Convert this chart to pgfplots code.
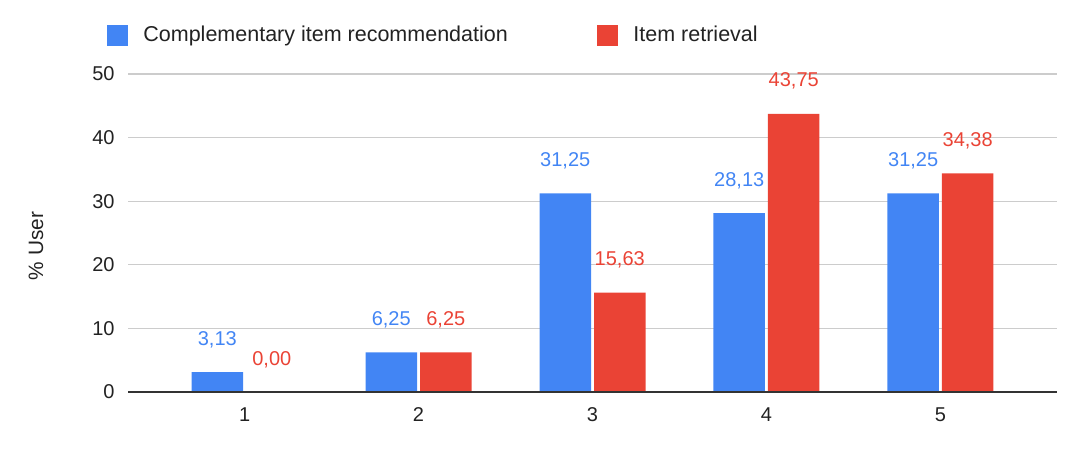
\documentclass[border=0pt]{standalone}
\usepackage{pgfplots}
\pgfplotsset{compat=1.18}
\usepackage{fontspec}
\setmainfont{Liberation Sans}
\definecolor{SheetBlue}{HTML}{4285F4}
\definecolor{SheetRed}{HTML}{EA4335}
\definecolor{GridGray}{HTML}{CCCCCC}
\definecolor{AxisDark}{HTML}{333333}
\definecolor{TextGray}{HTML}{222222}

\begin{document}
\begin{tikzpicture}
\useasboundingbox (0,0) rectangle (540pt,225pt);
\begin{axis}[
    at={(64pt,29pt)}, anchor=south west,
    scale only axis, width=464.5pt, height=159pt,
    ybar=1.5pt, bar width=25.75pt,
    xmin=0.33, xmax=5.67, ymin=0, ymax=50,
    xtick={1,2,3,4,5}, ytick={0,10,20,30,40,50},
    axis line style={draw=none},
    major tick length=0pt,
    ymajorgrids=true,
    grid style={GridGray, line width=0.6pt},
    /pgf/number format/assume math mode=true,
    tick label style={font=\fontsize{10}{12}\selectfont, text=TextGray},
    xticklabel style={anchor=north, inner sep=0pt, yshift=-7.5pt},
    yticklabel style={anchor=east, inner sep=0pt, xshift=-6.5pt},
    ylabel={\% User},
    ylabel style={at={(axis description cs:-0.099,0.459)}, anchor=center,
                  font=\fontsize{10.4}{12}\selectfont, text=TextGray},
    legend columns=2,
    legend style={at={(axis description cs:-0.0226,1.1226)}, anchor=west,
                  draw=none, fill=none, inner sep=0pt,
                  nodes={inner sep=0pt},
                  font=\fontsize{10.75}{13}\selectfont, text=TextGray,
                  /tikz/every odd column/.append style={column sep=7.5pt},
                  /tikz/every even column/.append style={column sep=44.8pt}},
    legend image code/.code={\fill[#1] (0pt,-5.25pt) rectangle (10.5pt,5.25pt);},
    nodes near coords={\pgfmathprintnumber[assume math mode=true,use comma,fixed,fixed zerofill,precision=2]{\pgfplotspointmeta}},
]
\addplot[fill=SheetBlue, draw=none,
    every node near coord/.append style={text=SheetBlue, anchor=base,
        inner sep=0pt, yshift=13.5pt, font=\fontsize{10}{12}\selectfont}]
  coordinates {(1,3.13) (2,6.25) (3,31.25) (4,28.13) (5,31.25)};
\addplot[fill=SheetRed, draw=none,
    every node near coord/.append style={text=SheetRed, anchor=base,
        inner sep=0pt, yshift=13.5pt, font=\fontsize{10}{12}\selectfont}]
  coordinates {(1,0.00) (2,6.25) (3,15.63) (4,43.75) (5,34.38)};
\legend{Complementary item recommendation, Item retrieval}
\draw[AxisDark, line width=0.8pt] (axis cs:0.33,0) -- (axis cs:5.67,0);
\end{axis}
\end{tikzpicture}
\end{document}
